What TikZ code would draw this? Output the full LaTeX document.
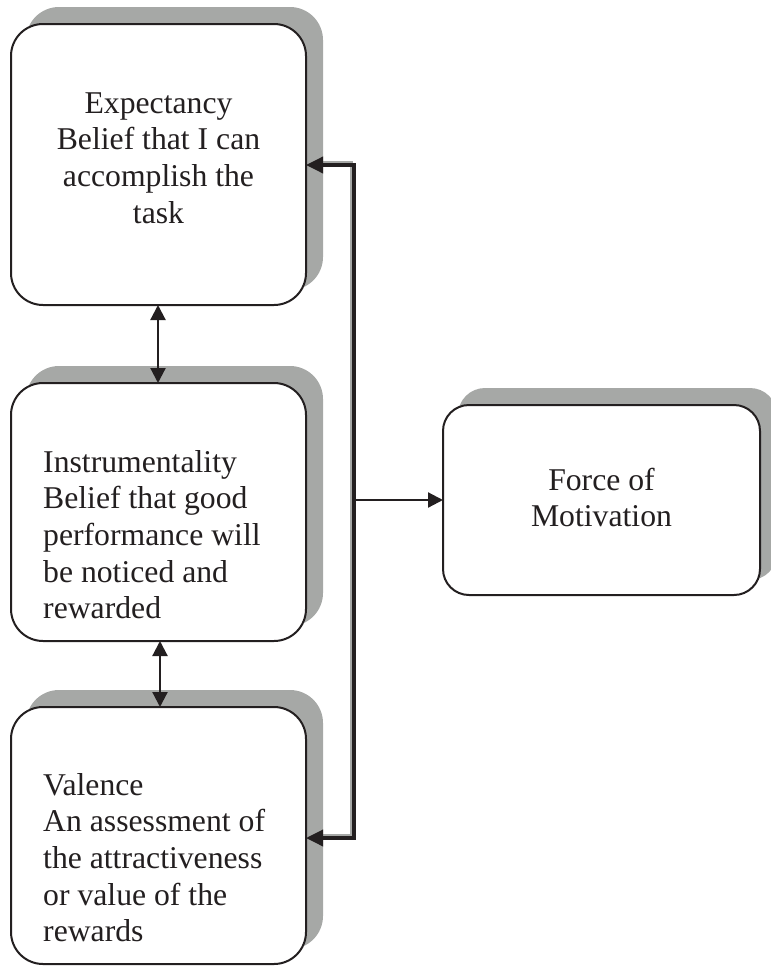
\documentclass[tikz,border=0pt]{standalone}
\usepackage{fontspec}
\setmainfont{Liberation Serif}
\usetikzlibrary{arrows.meta,shadows}
\definecolor{shade}{RGB}{166,168,166}
\definecolor{ink}{RGB}{35,31,32}
\begin{document}
\begin{tikzpicture}[x=1pt,y=-1pt,
  box/.style={draw=ink, line width=2pt, fill=white, inner sep=0pt, outer sep=0pt,
    rounded corners=32pt, minimum width=295pt,
    copy shadow={shadow xshift=16pt, shadow yshift=16pt, fill=shade, draw=shade}},
  lbl/.style={inner sep=0pt, text=ink, font=\fontsize{31.7}{36.7}\selectfont},
  tip/.style={Triangle[length=15pt,width=15pt]},
  arr/.style={draw=ink, line width=2.2pt, -{Triangle[length=15pt,width=15pt]}},
  dblarr/.style={draw=ink, line width=2.2pt, {Triangle[length=15pt,width=15pt]}-{Triangle[length=15pt,width=15pt]}},
  conn/.style={draw=ink, line width=3.5pt, {Triangle[length=17pt,width=16pt]}-{Triangle[length=17pt,width=16pt]}},
  connshade/.style={draw=shade, line width=3pt},
]
\useasboundingbox (0,0) rectangle (771,967);

% boxes
\node[box, minimum height=281pt] (e) at (158.5,164.5) {};
\node[box, minimum height=258pt] (i) at (158.5,512) {};
\node[box, minimum height=257pt] (v) at (158.5,835.5) {};
\node[box, rounded corners=26pt, minimum width=317pt, minimum height=190pt] (f) at (601.5,500) {};

% texts
\node[lbl, anchor=base] (te) at (158.5,113)
  {\begin{tabular}[t]{@{}c@{}}Expectancy\\Belief that I can\\accomplish the\\task\end{tabular}};
\node[lbl, anchor=base west] (ti) at (43,472)
  {\begin{tabular}[t]{@{}l@{}}Instrumentality\\Belief that good\\performance will\\be noticed and\\rewarded\end{tabular}};
\node[lbl, anchor=base west] (tv) at (43,795)
  {\begin{tabular}[t]{@{}l@{}}Valence\\An assessment of\\the attractiveness\\or value of the\\rewards\end{tabular}};
\node[lbl, anchor=base] (tf) at (601.5,490)
  {\begin{tabular}[t]{@{}c@{}}Force of\\Motivation\end{tabular}};

% arrows between the left boxes
\draw[dblarr] ([xshift=-0.5pt]e.south) -- ([xshift=-0.5pt]i.north);
\draw[dblarr] ([xshift=1.5pt]i.south) -- ([xshift=1.5pt]v.north);

% connector
\coordinate (jt) at (354,165);
\coordinate (jb) at (354,838);
\draw[connshade] ([shift={(15,-2.5)}]jt -| e.east) -- ([shift={(-2.5,-2.5)}]jt)
  -- ([shift={(-2.5,-2.5)}]jb) -- ([shift={(15,-2.5)}]jb -| v.east);
\draw[conn] (jt -| e.east) -- (jt) -- (jb) -- (jb -| v.east);
\draw[arr] (jt |- f.west) -- (f.west);
\end{tikzpicture}
\end{document}
